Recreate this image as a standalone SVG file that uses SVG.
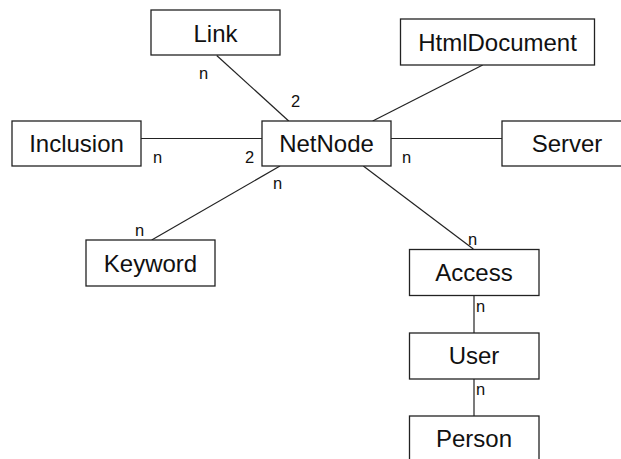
<svg xmlns="http://www.w3.org/2000/svg" width="621" height="459" viewBox="0 0 621 459">
<style>
.box{fill:#fff;stroke:#222;stroke-width:1.3}
.t{font-family:"Liberation Sans",Arial,sans-serif;font-size:24px;fill:#111;text-anchor:middle}
.l{font-family:"Liberation Sans",Arial,sans-serif;font-size:16.5px;fill:#111}
.c{stroke:#222;stroke-width:1.2;fill:none}
</style>
<rect width="621" height="459" fill="#fff"/>
<g id="connectors">
<line class="c" x1="216.7" y1="55.5" x2="288.7" y2="121"/>
<line class="c" x1="141" y1="138.5" x2="262" y2="138.5"/>
<line class="c" x1="482.7" y1="65" x2="372.7" y2="121"/>
<line class="c" x1="391" y1="138.5" x2="502" y2="138.5"/>
<line class="c" x1="280" y1="166" x2="151.7" y2="240"/>
<line class="c" x1="363.3" y1="166" x2="473.3" y2="249"/>
<line class="c" x1="474" y1="295" x2="474" y2="333"/>
<line class="c" x1="474" y1="379" x2="474" y2="416"/>
<text class="l" x="199" y="79">n</text>
<text class="l" x="291" y="107">2</text>
<text class="l" x="153" y="163">n</text>
<text class="l" x="245" y="163">2</text>
<text class="l" x="402" y="163">n</text>
<text class="l" x="273" y="189">n</text>
<text class="l" x="135" y="236">n</text>
<text class="l" x="468" y="245">n</text>
<text class="l" x="476" y="312">n</text>
<text class="l" x="476" y="395">n</text>
</g>
<g id="link"><rect class="box" x="151" y="10" width="129" height="45"/><text class="t" x="215.5" y="42">Link</text></g>
<g id="htmldocument"><rect class="box" x="400.5" y="19" width="194" height="46"/><text class="t" x="497.5" y="51">HtmlDocument</text></g>
<g id="inclusion"><rect class="box" x="12" y="121" width="129" height="45"/><text class="t" x="76.5" y="152">Inclusion</text></g>
<g id="netnode"><rect class="box" x="262" y="121" width="129" height="45"/><text class="t" x="326.5" y="152">NetNode</text></g>
<g id="server"><rect class="box" x="502" y="121" width="130" height="45"/><text class="t" x="567" y="152">Server</text></g>
<g id="keyword"><rect class="box" x="86" y="240" width="129" height="46"/><text class="t" x="150.5" y="272">Keyword</text></g>
<g id="access"><rect class="box" x="409.5" y="249.5" width="129.5" height="46"/><text class="t" x="474" y="281">Access</text></g>
<g id="user"><rect class="box" x="409.5" y="333" width="129.5" height="46"/><text class="t" x="474" y="364">User</text></g>
<g id="person"><rect class="box" x="409.5" y="416" width="129.5" height="46"/><text class="t" x="474" y="447">Person</text></g>
</svg>
